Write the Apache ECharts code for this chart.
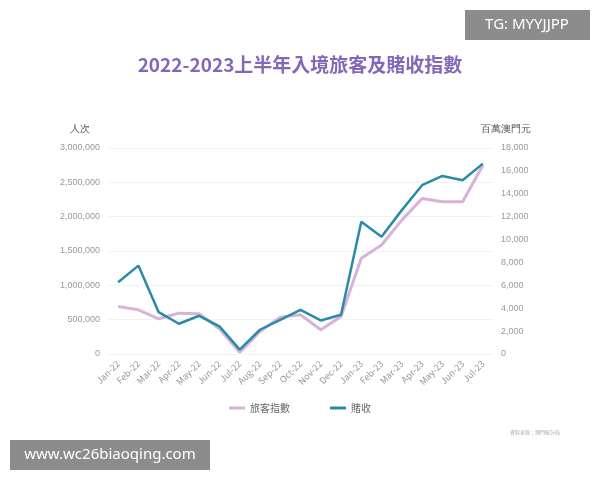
<!DOCTYPE html>
<html><head><meta charset="utf-8">
<script src="https://cdn.jsdelivr.net/npm/echarts@6/dist/echarts.min.js"></script>
<style>html,body{margin:0;background:#fff}#c{width:600px;height:480px}</style>
</head><body><div id="c"></div>
<script>
const categories=['Jan-22','Feb-22','Mar-22','Apr-22','May-22','Jun-22','Jul-22','Aug-22','Sep-22','Oct-22','Nov-22','Dec-22','Jan-23','Feb-23','Mar-23','Apr-23','May-23','Jun-23','Jul-23'];
const visitors=[692000,644000,513000,595000,585000,368000,24000,329000,537000,571000,353000,547000,1394000,1587000,1950000,2265000,2216000,2216000,2748000];
const gaming=[6271,7723,3658,2642,3339,2410,377,2119,2990,3861,2932,3426,11555,10248,12571,14748,15561,15184,16635];
const font='"Noto Sans CJK TC", "Noto Sans", sans-serif';
const chart=echarts.init(document.getElementById('c'));
chart.setOption({
  animation:false,
  title:{text:'2022-2023上半年入境旅客及賭收指數',left:'center',top:50,textStyle:{color:'#8467b8',fontSize:19,fontWeight:'bold',fontFamily:font}},
  grid:{left:108,right:107,top:148,bottom:126},
  legend:{bottom:62,left:'center',itemGap:40,icon:'rect',itemWidth:16,itemHeight:3,textStyle:{color:'#666',fontSize:10,fontFamily:font},data:['旅客指數','賭收']},
  xAxis:{type:'category',data:categories,boundaryGap:true,axisLine:{show:false},axisTick:{show:false},
    axisLabel:{rotate:45,color:'#999',fontSize:9,interval:0,fontFamily:font}},
  yAxis:[
    {type:'value',min:0,max:3000000,interval:500000,name:'人次',nameLocation:'end',nameGap:14,nameTextStyle:{color:'#555',fontSize:10,align:'right',padding:[0,18,0,0]},
     axisLabel:{color:'#999',fontSize:9,formatter:v=>v.toLocaleString('en-US')},splitLine:{lineStyle:{color:'#f2f2f2'}}},
    {type:'value',min:0,max:18000,interval:2000,name:'百萬澳門元',nameLocation:'end',nameGap:14,nameTextStyle:{color:'#555',fontSize:10,align:'left',padding:[0,0,0,-12]},
     axisLabel:{color:'#999',fontSize:9,formatter:v=>v.toLocaleString('en-US')},splitLine:{show:false}}
  ],
  series:[
    {name:'旅客指數',type:'line',data:visitors,yAxisIndex:0,symbol:'none',lineStyle:{color:'#d7b3d9',width:3},itemStyle:{color:'#d7b3d9'}},
    {name:'賭收',type:'line',data:gaming,yAxisIndex:1,symbol:'none',lineStyle:{color:'#2b8aa8',width:2.5},itemStyle:{color:'#2b8aa8'}}
  ],
  graphic:[
    {type:'text',right:40,top:430,style:{text:'資料來源：澳門統計局',fill:'#aaa',fontSize:5,fontFamily:font}},
    {type:'group',right:10,top:10,children:[
      {type:'rect',shape:{x:0,y:0,width:125,height:30},style:{fill:'rgba(120,120,120,0.85)'}},
      {type:'text',x:62,y:15,style:{text:'TG: MYYJJPP',fill:'#fff',fontSize:15,align:'center',verticalAlign:'middle',fontFamily:'Noto Sans'}}]},
    {type:'group',left:10,top:440,children:[
      {type:'rect',shape:{x:0,y:0,width:200,height:30},style:{fill:'rgba(120,120,120,0.85)'}},
      {type:'text',x:100,y:15,style:{text:'www.wc26biaoqing.com',fill:'#fff',fontSize:15,align:'center',verticalAlign:'middle',fontFamily:'Noto Sans'}}]}
  ]
});
</script></body></html>
